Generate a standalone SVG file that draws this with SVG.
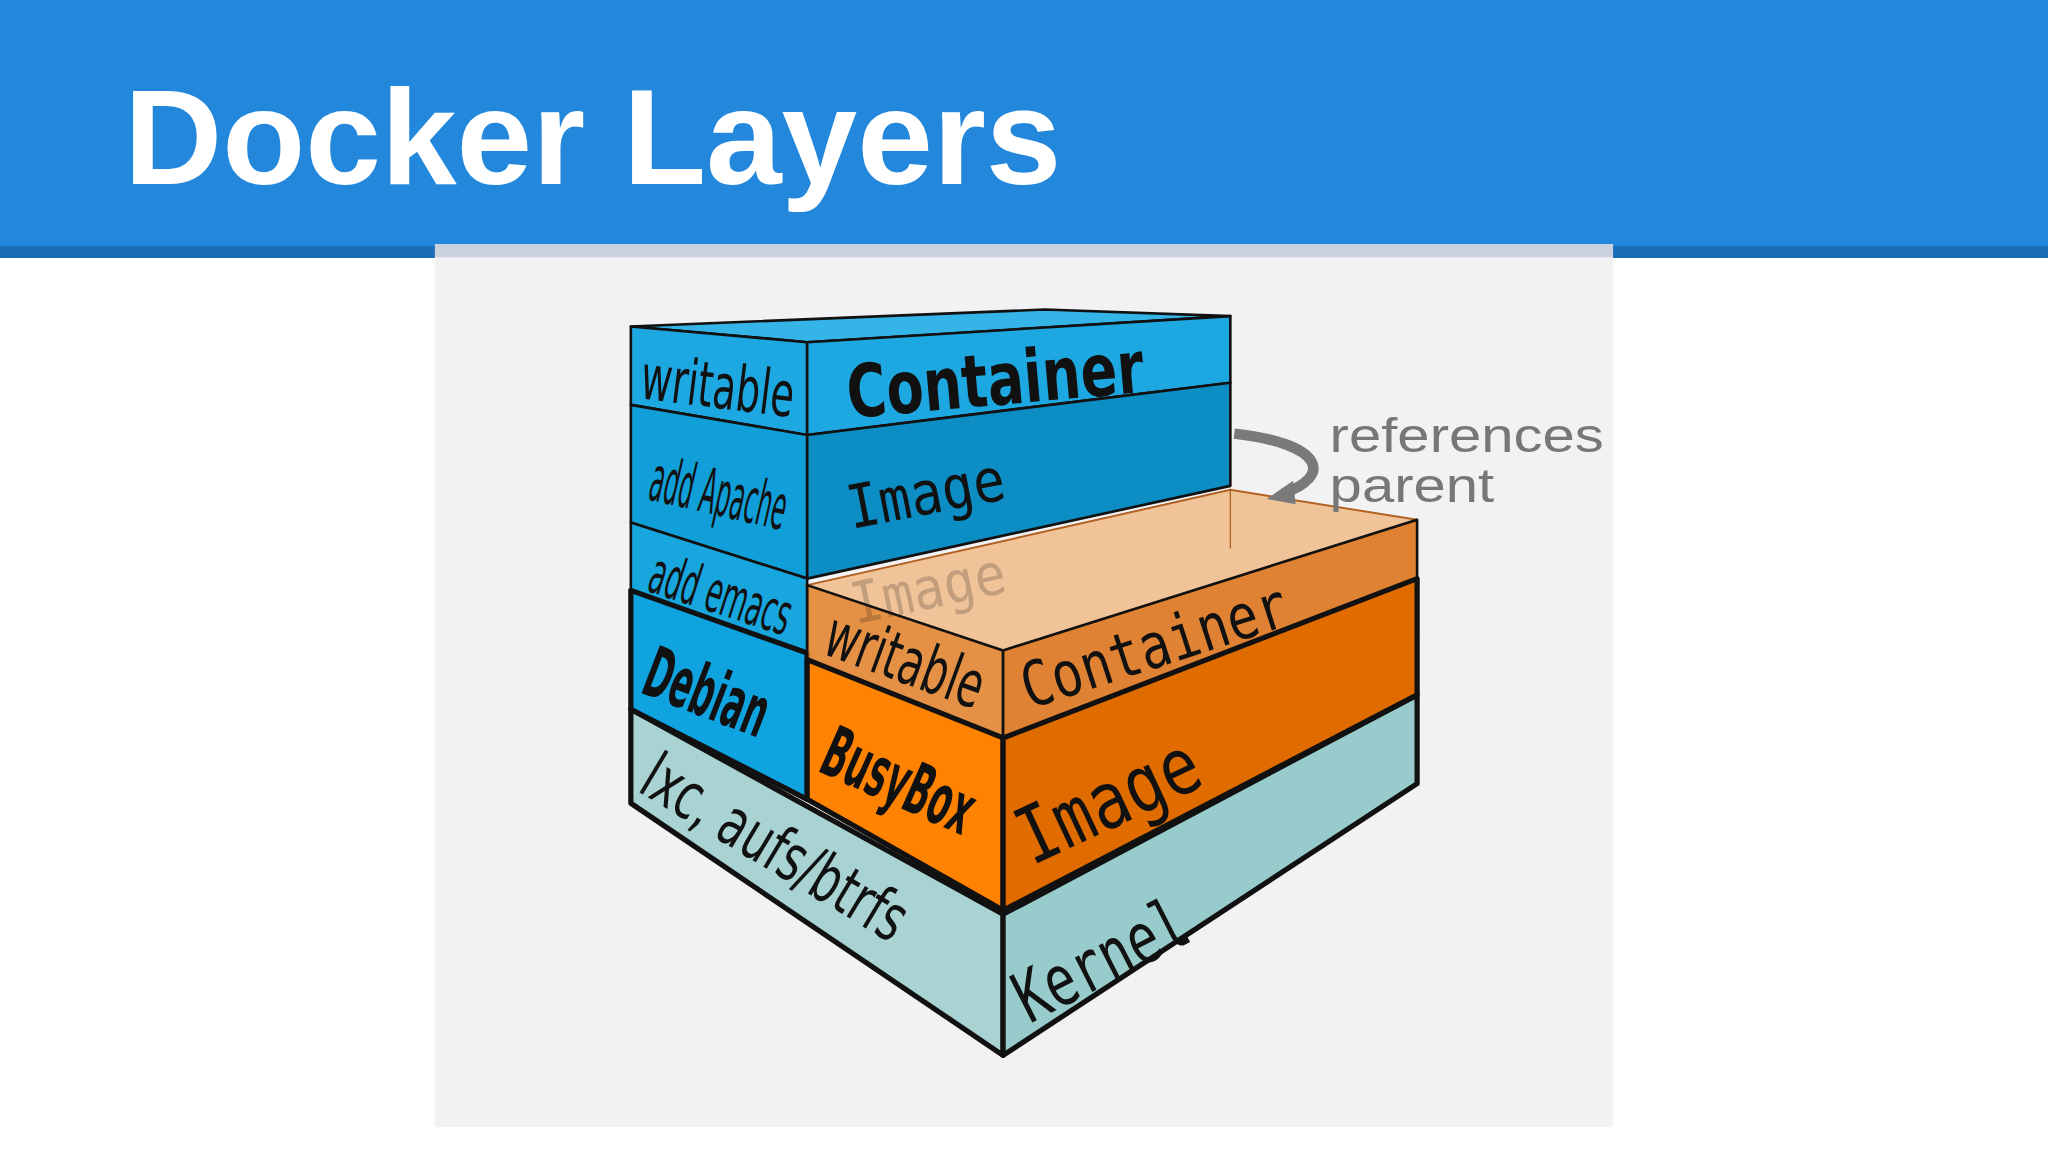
<svg xmlns="http://www.w3.org/2000/svg" width="2048" height="1152" viewBox="0 0 2048 1152">
<style>
.ln{stroke:#111;stroke-width:2;stroke-linejoin:round}
.th{stroke:#111;stroke-width:4;stroke-linejoin:round}
.hw{font-family:"DejaVu Sans Condensed","Liberation Sans",sans-serif;fill:#111}
.mo{font-family:"DejaVu Sans Mono","Liberation Mono",monospace;fill:#111}
</style>
<rect width="2048" height="1152" fill="#ffffff"/>
<rect width="2048" height="246" fill="#2387db"/>
<rect y="246" width="2048" height="12" fill="#1b6db8"/>
<text x="124" y="184" font-family="Liberation Sans,Arial,sans-serif" font-weight="bold" font-size="136" fill="#ffffff">Docker Layers</text>
<g transform="scale(1.3061)">
<rect x="333" y="187" width="902" height="676" fill="#f2f2f4"/>
<rect x="333" y="187" width="902" height="10" fill="#c9d2de"/>
<g id="base">
<polygon class="th" points="483,543 768,700 768,808 483,615" fill="#a9d3d3"/>
<polygon class="th" points="768,700 1085,532 1085,600 768,808" fill="#98cbcb"/>
<text class="hw" font-size="50" textLength="228" lengthAdjust="spacingAndGlyphs" transform="translate(487,605) rotate(31)">lxc, aufs/btrfs</text>
<text class="mo" font-size="54" textLength="142" lengthAdjust="spacingAndGlyphs" transform="translate(788,784) rotate(-27)">Kernel</text>
</g>
<g id="blue">
<polygon class="ln" points="483,250 800,237 942,242 618,262" fill="#35b4e8"/>
<polygon class="ln" points="483,250 618,262 618,333 483,310" fill="#1ea8e2"/>
<polygon class="ln" points="618,262 942,242 942,293 618,333" fill="#1ea8e2"/>
<polygon class="ln" points="483,310 618,333 618,443 483,400" fill="#119fd9"/>
<polygon class="ln" points="618,333 942,293 942,372 618,443" fill="#0c8dc4"/>
<polygon class="ln" points="483,400 618,443 618,500 483,452" fill="#18a6df"/>
<polygon class="th" points="483,452 618,500 618,612 483,543" fill="#0fa3e0"/>
<text class="hw" font-size="48" textLength="118" lengthAdjust="spacingAndGlyphs" transform="translate(489,305) rotate(7)">writable</text>
<text class="hw" font-weight="bold" font-size="56" textLength="228" lengthAdjust="spacingAndGlyphs" transform="translate(650,320) rotate(-5)">Container</text>
<text class="hw" font-size="48" textLength="106" lengthAdjust="spacingAndGlyphs" transform="translate(495,382) rotate(13)">add Apache</text>
<text class="mo" font-size="46" textLength="122" lengthAdjust="spacingAndGlyphs" transform="translate(652,405) rotate(-11)">Image</text>
<text class="hw" font-size="44" textLength="112" lengthAdjust="spacingAndGlyphs" transform="translate(494,452) rotate(18)">add emacs</text>
<text class="hw" font-weight="bold" font-size="54" textLength="98" lengthAdjust="spacingAndGlyphs" transform="translate(489,530) rotate(21)">Debian</text>
</g>
<g id="orange">
<polygon points="618,448 942,375 1085,398 768,498" fill="#f08a2a" fill-opacity="0.45" stroke="#b06020" stroke-width="1.5"/>
<line x1="942" y1="375" x2="942" y2="420" stroke="#b06020"/>
<polygon class="ln" points="618,448 768,498 768,565 618,505" fill="#e0781a" fill-opacity="0.8"/>
<polygon class="ln" points="768,498 1085,398 1085,443 768,565" fill="#dc6e10" fill-opacity="0.85"/>
<polygon class="th" points="618,505 768,565 768,697 618,612" fill="#ff8200"/>
<polygon class="th" points="768,565 1085,443 1085,532 768,697" fill="#e06c00"/>
<text class="mo" font-size="44" opacity="0.2" textLength="120" lengthAdjust="spacingAndGlyphs" transform="translate(655,478) rotate(-12)">Image</text>
<text class="hw" font-size="50" textLength="126" lengthAdjust="spacingAndGlyphs" transform="translate(628,500) rotate(20)">writable</text>
<text class="mo" font-size="48" textLength="212" lengthAdjust="spacingAndGlyphs" transform="translate(788,543) rotate(-18)">Container</text>
<text class="hw" font-weight="bold" font-size="54" textLength="122" lengthAdjust="spacingAndGlyphs" transform="translate(625,590) rotate(24)">BusyBox</text>
<text class="mo" font-size="60" textLength="148" lengthAdjust="spacingAndGlyphs" transform="translate(790,663) rotate(-25)">Image</text>
</g>
<g id="connectors">
<path d="M945,332 C1015,340 1020,365 982,378" fill="none" stroke="#7a7a7a" stroke-width="8"/>
<polygon points="970,382 990,368 992,386" fill="#7a7a7a"/>
</g>
<g id="label">
<text x="1018" y="346" font-family="Liberation Sans,Arial,sans-serif" font-size="37" textLength="210" lengthAdjust="spacingAndGlyphs" fill="#777">references</text>
<text x="1018" y="384" font-family="Liberation Sans,Arial,sans-serif" font-size="37" textLength="126" lengthAdjust="spacingAndGlyphs" fill="#777">parent</text>
</g>
</g>
</svg>
